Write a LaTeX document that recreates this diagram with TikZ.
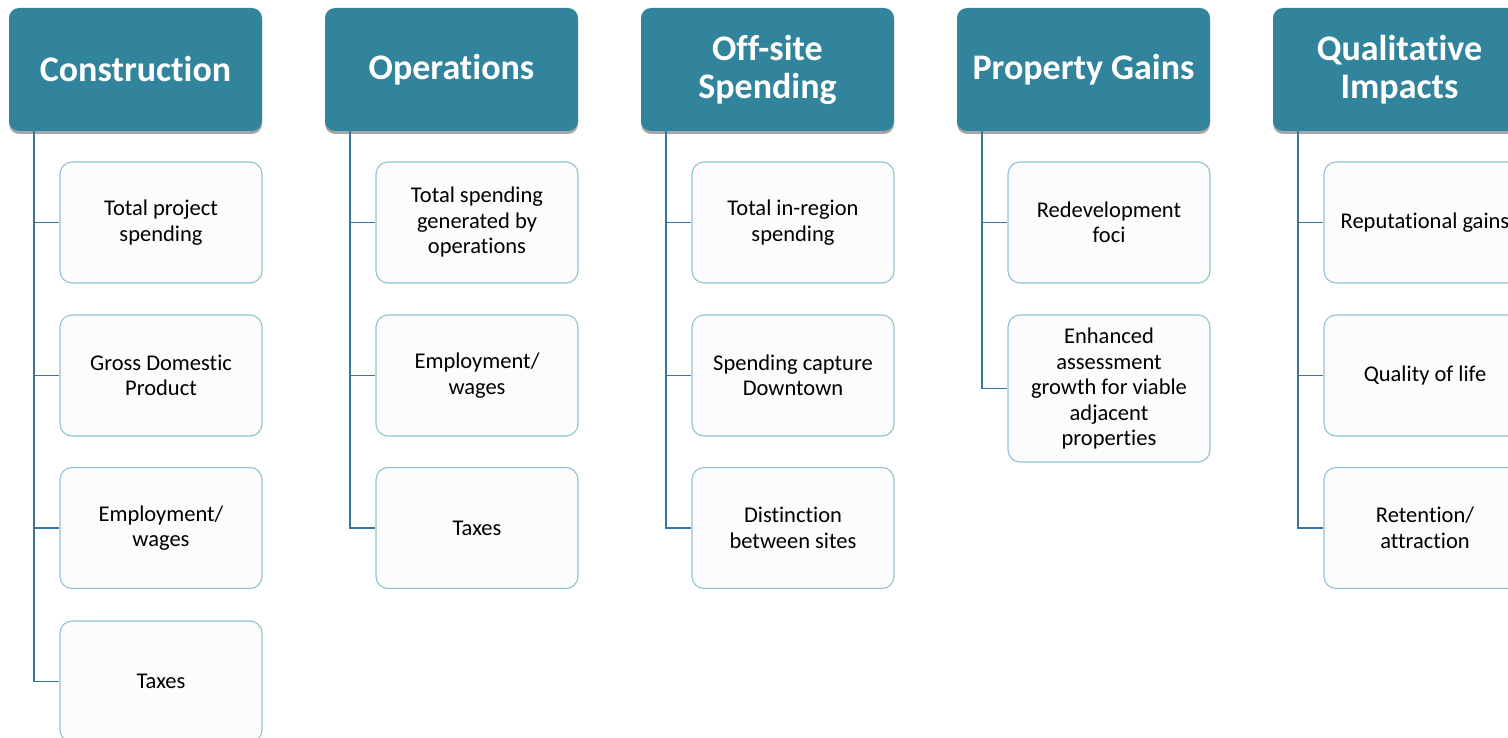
\documentclass[tikz,border=0pt]{standalone}
\usepackage{fontspec}
\setmainfont[Ligatures={NoCommon,NoRequired,NoContextual}]{Carlito}
\usetikzlibrary{shadows}
\definecolor{hdr}{RGB}{49,132,155}
\definecolor{cbord}{RGB}{143,195,208}
\definecolor{cfill}{RGB}{252,252,252}
\definecolor{conn}{RGB}{52,118,160}
\tikzset{
  hdrbox/.style={draw=none, fill=hdr, rounded corners=10pt, minimum width=253pt, minimum height=123pt,
    inner sep=0pt, align=center, text=white, font=\fontsize{36}{38}\selectfont\bfseries,
    drop shadow={shadow xshift=0pt, shadow yshift=-3pt, opacity=0.35, fill=black}},
  childbox/.style={draw=cbord, line width=1.1pt, fill=cfill, rounded corners=12pt, minimum width=202pt,
    minimum height=121pt, inner sep=0pt, align=center, text=black, font=\fontsize{22.5}{25.5}\selectfont},
  link/.style={draw=conn, line width=1.5pt}
}
\begin{document}
\begin{tikzpicture}[x=1pt,y=-1pt]
\useasboundingbox (0,0) rectangle (1508,738);
% headers
\node[hdrbox] (h1) at (135.5,69.5) {Construction};
\node[hdrbox] (h2) at (451.5,69.5) {Operations};
\node[hdrbox] (h3) at (767.5,69.5) {Off-site\\Spending};
\node[hdrbox] (h4) at (1083.5,69.5) {Property Gains};
\node[hdrbox] (h5) at (1399.5,69.5) {Qualitative\\Impacts};
% Construction
\node[childbox] (c11) at (161,222.5) {Total project\\spending};
\node[childbox] (c12) at (161,375.5) {Gross Domestic\\Product};
\node[childbox] (c13) at (161,528) {Employment/\\wages};
\node[childbox] (c14) at (161,681.5) {Taxes};
% Operations
\node[childbox] (c21) at (477,222.5) {Total spending\\generated by\\operations};
\node[childbox] (c22) at (477,375.5) {Employment/\\wages};
\node[childbox] (c23) at (477,528) {Taxes};
% Off-site
\node[childbox] (c31) at (793,222.5) {Total in-region\\spending};
\node[childbox] (c32) at (793,375.5) {Spending capture\\Downtown};
\node[childbox] (c33) at (793,528) {Distinction\\between sites};
% Property
\node[childbox] (c41) at (1109,222.5) {Redevelopment\\foci};
\node[childbox, minimum height=147pt] (c42) at (1109,388.5) {Enhanced\\assessment\\growth for viable\\adjacent\\properties};
% Qualitative
\node[childbox] (c51) at (1425,222.5) {Reputational gains};
\node[childbox] (c52) at (1425,375.5) {Quality of life};
\node[childbox] (c53) at (1425,528) {Retention/\\attraction};
% connectors
\foreach \h/\c in {h1/c11,h1/c12,h1/c13,h1/c14,h2/c21,h2/c22,h2/c23,h3/c31,h3/c32,h3/c33,h4/c41,h4/c42,h5/c51,h5/c52,h5/c53}{
  \draw[link] ([xshift=25pt]\h.south west) |- (\c.west);
}
\end{tikzpicture}
\end{document}
